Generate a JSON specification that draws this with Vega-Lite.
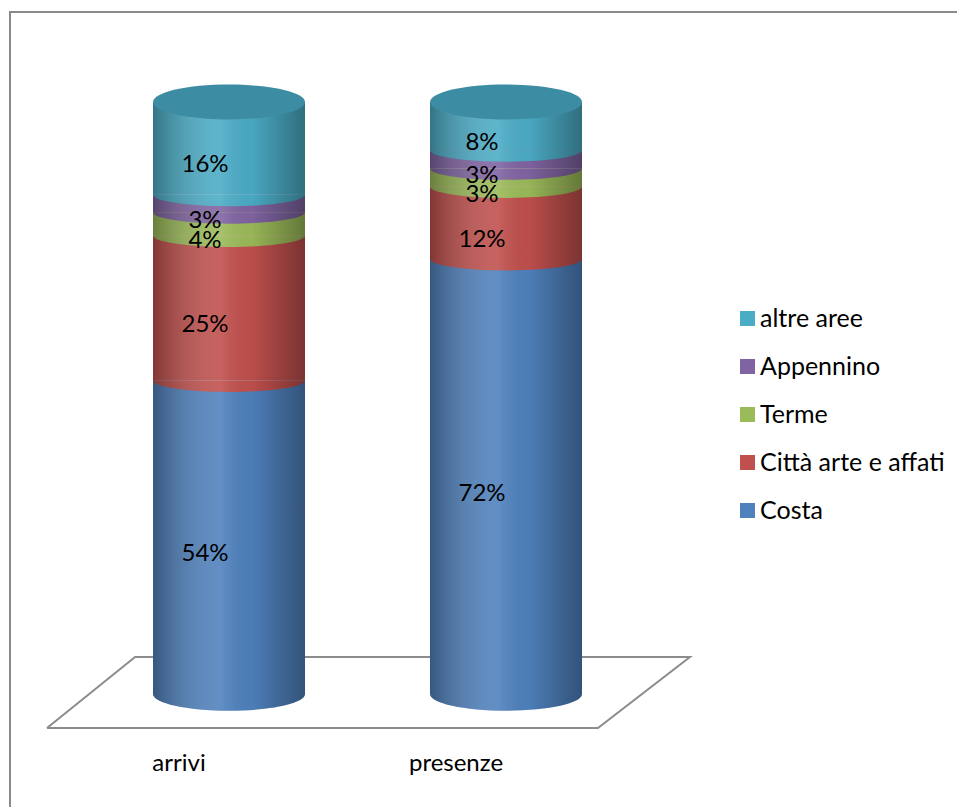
{
  "$schema": "https://vega.github.io/schema/vega-lite/v6.json",
  "width": 950,
  "height": 798,
  "padding": {"left": 10, "top": 12, "right": -3, "bottom": -3},
  "autosize": {"type": "none"},
  "background": "white",
  "config": {
    "view": {"stroke": "#8a8a8a", "strokeWidth": 2},
    "font": "Lato"
  },
  "layer": [
    {
      "description": "Floor plane under the cylinders",
      "data": {
        "values": [
          {"k": 1, "fx": -0.657, "fy": -0.0574},
          {"k": 2, "fx": -0.339, "fy": 0.0625},
          {"k": 3, "fx": 1.664, "fy": 0.0625},
          {"k": 4, "fx": 1.332, "fy": -0.0574},
          {"k": 5, "fx": -0.657, "fy": -0.0574}
        ]
      },
      "mark": {"type": "line", "stroke": "#8c8c8c", "strokeWidth": 2},
      "encoding": {
        "x": {"field": "fx", "type": "quantitative", "axis": null,
              "scale": {"domain": [0, 1], "range": [219, 496], "zero": false, "nice": false}},
        "y": {"field": "fy", "type": "quantitative", "axis": null,
              "scale": {"domain": [0, 1], "range": [682, 90], "zero": false, "nice": false}},
        "order": {"field": "k"}
      }
    },
    {
      "data": {
        "values": [
          {"cat": "arrivi", "area": "Costa", "v": 0.54, "ord": 1},
          {"cat": "arrivi", "area": "Città arte e affati", "v": 0.25, "ord": 2},
          {"cat": "arrivi", "area": "Terme", "v": 0.04, "ord": 3},
          {"cat": "arrivi", "area": "Appennino", "v": 0.03, "ord": 4},
          {"cat": "arrivi", "area": "altre aree", "v": 0.16, "ord": 5},
          {"cat": "presenze", "area": "Costa", "v": 0.72, "ord": 1},
          {"cat": "presenze", "area": "Città arte e affati", "v": 0.12, "ord": 2},
          {"cat": "presenze", "area": "Terme", "v": 0.03, "ord": 3},
          {"cat": "presenze", "area": "Appennino", "v": 0.03, "ord": 4},
          {"cat": "presenze", "area": "altre aree", "v": 0.08, "ord": 5}
        ]
      },
      "transform": [
        {"stack": "v", "groupby": ["cat"], "sort": [{"field": "ord", "order": "ascending"}],
         "as": ["y0", "y1"], "offset": "normalize"},
        {"calculate": "(datum.y0 + datum.y1) / 2", "as": "ymid"}
      ],
      "encoding": {
        "x": {"field": "cat", "type": "nominal", "title": null,
              "scale": {"type": "band", "range": [80.5, 634.5], "paddingInner": 0, "paddingOuter": 0},
              "axis": {"domain": false, "ticks": false, "tickSize": 0, "labelAngle": 0,
                       "labelFont": "Lato", "labelFontSize": 24, "labelColor": "#000000",
                       "labelBaseline": "middle", "labelPadding": 0, "labelOffset": -50, "offset": -47}}
      },
      "layer": [
        {
          "mark": {"type": "bar", "width": 152},
          "encoding": {
            "y": {"field": "y0", "type": "quantitative", "axis": null,
                  "scale": {"domain": [0, 1], "range": [682, 90], "zero": false, "nice": false}},
            "y2": {"field": "y1"},
            "color": {
              "field": "area", "type": "nominal",
              "scale": {
                "domain": ["altre aree", "Appennino", "Terme", "Città arte e affati", "Costa"],
                "range": ["#4BACC6", "#8064A2", "#9BBB59", "#C0504D", "#4F81BD"]
              },
              "legend": {
                "title": null, "orient": "none", "legendX": 725, "legendY": 294,
                "symbolType": "square", "symbolSize": 225, "symbolStrokeWidth": 0,
                "labelFont": "Lato", "labelFontSize": 25, "labelColor": "#000000",
                "labelLimit": 0, "labelOffset": 0, "rowPadding": 22, "padding": 0
              }
            }
          }
        },
        {
          "description": "Curved lower edge of each inner segment",
          "transform": [{"filter": "datum.ord > 1"}],
          "mark": {"type": "point", "filled": true, "opacity": 1, "strokeWidth": 0, "size": 23104,
                   "shape": "M -1 0 A 1 0.15 0 0 0 1 0 Z"},
          "encoding": {
            "y": {"field": "y0", "type": "quantitative"},
            "color": {"field": "area", "type": "nominal", "legend": null},
            "order": {"field": "ord"}
          }
        },
        {
          "description": "Rounded bottom of each cylinder",
          "transform": [{"filter": "datum.ord == 1"}],
          "mark": {"type": "point", "filled": true, "opacity": 1, "strokeWidth": 0, "size": 23104,
                   "shape": "M -1 0 A 1 0.22 0 0 0 1 0 Z"},
          "encoding": {
            "y": {"field": "y0", "type": "quantitative"},
            "color": {"field": "area", "type": "nominal", "legend": null}
          }
        },
        {
          "description": "Side shading of the cylinder body",
          "transform": [{"filter": "datum.ord == 5"}],
          "mark": {"type": "bar", "width": 152,
                   "fill": {"gradient": "linear", "x1": 0, "y1": 0, "x2": 1, "y2": 0,
                            "stops": [
                              {"offset": 0, "color": "rgba(0,0,0,0.32)"},
                              {"offset": 0.45, "color": "rgba(255,255,255,0.10)"},
                              {"offset": 0.65, "color": "rgba(0,0,0,0.03)"},
                              {"offset": 1, "color": "rgba(0,0,0,0.36)"}
                            ]}},
          "encoding": {
            "y": {"field": "y1", "type": "quantitative"},
            "y2": {"datum": 0}
          }
        },
        {
          "description": "Side shading of the rounded bottom",
          "transform": [{"filter": "datum.ord == 1"}],
          "mark": {"type": "point", "filled": true, "opacity": 1, "strokeWidth": 0, "size": 23104,
                   "shape": "M -1 0 A 1 0.22 0 0 0 1 0 Z",
                   "fill": {"gradient": "linear", "x1": 0, "y1": 0, "x2": 1, "y2": 0,
                            "stops": [
                              {"offset": 0, "color": "rgba(0,0,0,0.32)"},
                              {"offset": 0.45, "color": "rgba(255,255,255,0.10)"},
                              {"offset": 0.65, "color": "rgba(0,0,0,0.03)"},
                              {"offset": 1, "color": "rgba(0,0,0,0.36)"}
                            ]}},
          "encoding": {
            "y": {"field": "y0", "type": "quantitative"}
          }
        },
        {
          "description": "Top cap of each cylinder",
          "transform": [{"filter": "datum.ord == 5"}],
          "mark": {"type": "point", "filled": true, "opacity": 1, "strokeWidth": 0, "size": 23104,
                   "shape": "M -1 0 A 1 0.23 0 1 0 1 0 A 1 0.23 0 1 0 -1 0 Z",
                   "fill": "#3C8DA3"},
          "encoding": {
            "y": {"field": "y1", "type": "quantitative"}
          }
        },
        {
          "mark": {"type": "text", "font": "Lato", "fontSize": 24, "color": "#000000",
                   "dx": -24, "dy": 17, "baseline": "middle"},
          "encoding": {
            "y": {"field": "ymid", "type": "quantitative"},
            "text": {"field": "v", "type": "quantitative", "format": ".0%"}
          }
        }
      ]
    }
  ],
  "resolve": {"scale": {"x": "independent"}}
}
